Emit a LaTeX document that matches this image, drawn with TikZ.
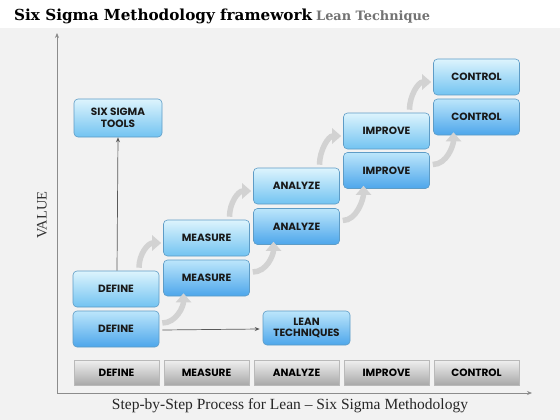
\documentclass[tikz,border=0pt]{standalone}
\usepackage{fontspec}
\usepackage{graphicx}
\setmainfont{Liberation Serif}
\newfontfamily\boxfont{Poppins}[UprightFont=* SemiBold,BoldFont=* Bold]
\newfontfamily\titlefont{DejaVu Serif}
\usetikzlibrary{arrows.meta,calc}
\definecolor{bluetopA}{HTML}{DDF4FD}
\definecolor{bluebotA}{HTML}{72C3F1}
\definecolor{bluetopB}{HTML}{BCE6FB}
\definecolor{bluebotB}{HTML}{4DA6EB}
\definecolor{blueedge}{HTML}{5E9CC6}
\definecolor{bgray}{HTML}{F2F2F2}
\definecolor{axisgray}{HTML}{8C8C8C}
\definecolor{curvegray}{HTML}{D2D2D2}
\begin{document}
\begin{tikzpicture}[x=1pt,y=-1pt,
  bluebox/.style={rounded corners=4pt,draw=blueedge,line width=0.6pt,minimum width=86pt,minimum height=36pt,
     inner sep=0pt,align=center,font=\boxfont\bfseries\fontsize{10.5}{11.5}\selectfont,text=black!90},
  upperbox/.style={bluebox,top color=bluetopA,bottom color=bluebotA},
  lowerbox/.style={bluebox,top color=bluetopB,bottom color=bluebotB},
  graybox/.style={draw=gray!55,line width=0.4pt,minimum width=85pt,minimum height=25pt,inner sep=0pt,
     top color=gray!12,bottom color=gray!68,font=\boxfont\bfseries\fontsize{10.5}{11.5}\selectfont},
  axisline/.style={draw=axisgray,line width=0.7pt,-{Stealth[length=5pt,width=4pt]}},
  thinarrow/.style={draw=gray!70!black,line width=0.7pt,-{Stealth[length=5pt,width=4pt]}},
  curvearrow/.style={draw=curvegray,line width=5.5pt,-{Triangle[length=9pt,width=15pt]}}
]
\useasboundingbox (0,0) rectangle (560,420);
\fill[white] (0,0) rectangle (560,420);
\fill[bgray] (0,28) rectangle (560,420);
% title
\node[anchor=base west,inner sep=0pt,font=\titlefont\bfseries\fontsize{14}{16}\selectfont] (title) at (14,21)
  {\resizebox{298pt}{!}{Six Sigma Methodology framework}};
\node[anchor=base west,inner sep=0pt,font=\titlefont\bfseries\fontsize{11}{13}\selectfont,text=gray!90!black] (sub) at (316,21)
  {\resizebox{114pt}{!}{Lean Technique}};
% axes
\coordinate (origin) at (57,393);
\coordinate (ytop) at (57,33);
\coordinate (xend) at (532,393);
\draw[axisline] (origin) -- (ytop);
\draw[axisline] (origin) -- (xend);
\node[rotate=90,font=\fontsize{14.5}{15}\selectfont,text=black!80] (value) at (42,215) {VALUE};
\node[font=\fontsize{15.5}{17}\selectfont,text=black!85] (caption) at (290,406) {Step-by-Step Process for Lean -- Six Sigma Methodology};
% bottom gray boxes
\node[graybox] (g1) at (116.5,372.5) {DEFINE};
\node[graybox] (g2) at (206.5,372.5) {MEASURE};
\node[graybox] (g3) at (296.5,372.5) {ANALYZE};
\node[graybox] (g4) at (386.5,372.5) {IMPROVE};
\node[graybox] (g5) at (476.5,372.5) {CONTROL};
% lower row
\node[lowerbox] (d1) at (116,329) {DEFINE};
\node[lowerbox] (d2) at (206.5,278) {MEASURE};
\node[lowerbox] (d3) at (296.5,226.5) {ANALYZE};
\node[lowerbox] (d4) at (386.5,170.5) {IMPROVE};
\node[lowerbox] (d5) at (476.5,117) {CONTROL};
% upper row
\node[upperbox] (u1) at (116,289) {DEFINE};
\node[upperbox] (u2) at (206.5,238) {MEASURE};
\node[upperbox] (u3) at (296.5,186) {ANALYZE};
\node[upperbox] (u4) at (386.5,131) {IMPROVE};
\node[upperbox] (u5) at (476.5,77) {CONTROL};
% side boxes
\node[upperbox,minimum width=88pt,minimum height=38pt] (tools) at (118,118) {SIX SIGMA\\TOOLS};
\node[lowerbox,minimum width=87pt,minimum height=34pt] (lean) at (306.5,328) {LEAN\\TECHNIQUES};
% thin arrows
\draw[thinarrow] (u1.north) ++(1,0) -- (tools.south);
\draw[thinarrow] (d1.east) ++(3,1) -- ($(lean.west)+(-3,1)$);
% curved arrows lower row
\foreach \a/\b in {d1/d2,d2/d3,d3/d4,d4/d5}{
  \draw[curvearrow] ($(\a.east)+(3,-6)$) .. controls +(14,0) and +(0,13) .. ($(\b.south)+(-23,-3)$);
}
% curved arrows upper row
\foreach \a/\b in {u1/u2,u2/u3,u3/u4,u4/u5}{
  \draw[curvearrow] ($(\a.north)+(23,-3)$) .. controls +(0,-14) and +(-13,0) .. ($(\b.west)+(-2,5)$);
}
\end{tikzpicture}
\end{document}
